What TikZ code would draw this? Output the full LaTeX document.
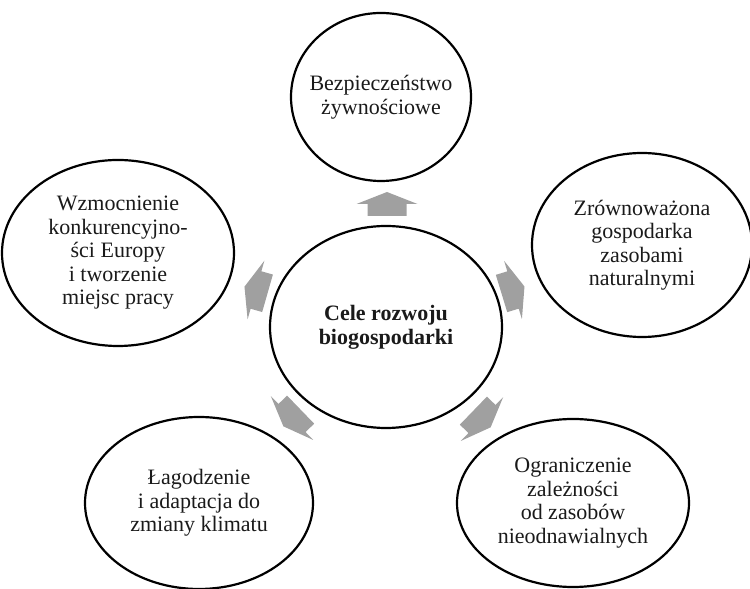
\documentclass[tikz,border=0pt]{standalone}
\usepackage{fontspec}
\setmainfont{Liberation Serif}
\usetikzlibrary{shapes.geometric}
\definecolor{arrowgray}{RGB}{160,160,160}
\definecolor{inkblack}{RGB}{26,26,26}
\tikzset{
  goal/.style={ellipse, draw=black, line width=2.2pt, align=center, inner sep=0pt,
    text=inkblack, font=\fontsize{22}{23.5}\selectfont},
  hub/.style={goal, font=\fontsize{22}{24}\selectfont\bfseries},
  blockarrow/.pic={\fill[arrowgray] (0,12) -- (30.5,0) -- (19.5,0) -- (19.5,-12)
    -- (-19.5,-12) -- (-19.5,0) -- (-30.5,0) -- cycle;}
}
\begin{document}
\begin{tikzpicture}[x=1pt,y=1pt]
\useasboundingbox (0,0) rectangle (750,589);

% central goal
\node[hub, minimum width=232pt, minimum height=202pt] (hub) at (386,262)
  {Cele rozwoju\\biogospodarki};

% surrounding goals
\node[goal, inner xsep=-20pt, minimum width=180pt, minimum height=168pt] (food) at (381,492)
  {Bezpieczeństwo\\żywnościowe};
\node[goal, minimum width=220pt, minimum height=184pt] (nature) at (642,344)
  {Zrównoważona\\gospodarka\\zasobami\\naturalnymi};
\node[goal, minimum width=232pt, minimum height=168pt] (fossil) at (573,86)
  {Ograniczenie\\zależności\\od zasobów\\nieodnawialnych};
\node[goal, minimum width=228pt, minimum height=172pt] (climate) at (199,86)
  {Łagodzenie\\i adaptacja do\\zmiany klimatu};
\node[goal, minimum width=232pt, minimum height=186pt] (jobs) at (118,336)
  {Wzmocnienie\\konkurencyjno-\\ści Europy\\i tworzenie\\miejsc pracy};

% block arrows pointing outwards from the hub
\pic[rotate=0] at (387,385) {blockarrow};
\pic[rotate=-73] at (513,299) {blockarrow};
\pic[rotate=-134] at (482,170) {blockarrow};
\pic[rotate=134] at (292,171) {blockarrow};
\pic[rotate=74] at (256,299) {blockarrow};
\end{tikzpicture}
\end{document}
